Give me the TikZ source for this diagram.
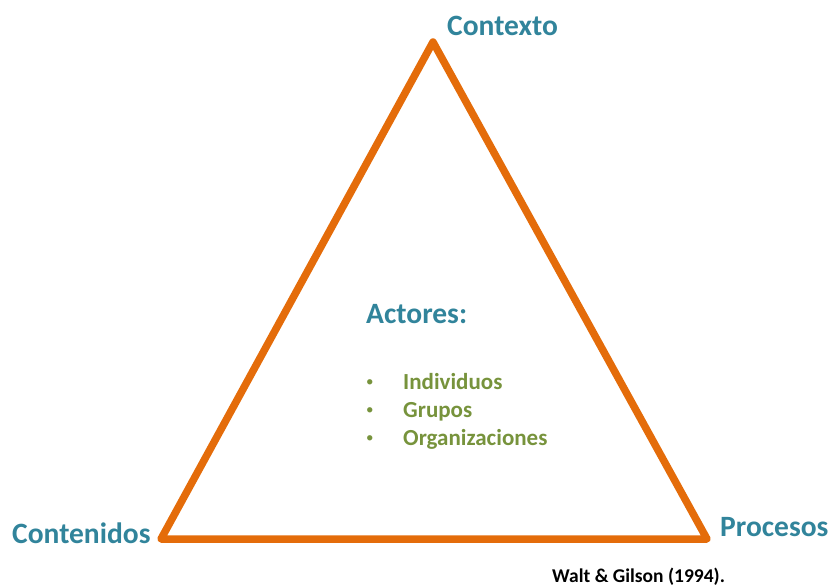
\documentclass[tikz,border=0pt]{standalone}
\usepackage{fontspec}
\setmainfont{Carlito}
\definecolor{teal}{HTML}{31849B}
\definecolor{leaf}{HTML}{77933C}
\definecolor{flame}{HTML}{E46C0A}
\begin{document}
\begin{tikzpicture}[x=1pt,y=-1pt,
  corner/.style={font=\fontsize{29.5}{32}\selectfont\bfseries,text=teal,anchor=base west,inner sep=0pt},
  item/.style={font=\fontsize{23}{26}\selectfont\bfseries,text=leaf,anchor=base west,inner sep=0pt},
  dot/.style={font=\fontsize{15}{18}\selectfont,text=leaf,anchor=base west,inner sep=0pt},
  edge/.style={draw=flame,line width=7.5pt,line join=round}]
\useasboundingbox (0,0) rectangle (832,584);
% triangle vertices
\coordinate (top) at (433,42);
\coordinate (left) at (161,539);
\coordinate (right) at (707,539);
\draw[edge] (top) -- (left) -- (right) -- cycle;
% corner labels
\node[corner] (contexto) at (447,35) {Contexto};
\node[corner] (contenidos) at (12,543) {Contenidos};
\node[corner] (procesos) at (720,536) {Procesos};
% centre list
\node[corner] (actores) at (366,323) {Actores:};
\node[dot] (b1) at (366,386) {•};
\node[dot] (b2) at (366,414) {•};
\node[dot] (b3) at (366,442) {•};
\node[item] (i1) at (403,389) {Individuos};
\node[item] (i2) at (403,417) {Grupos};
\node[item] (i3) at (403,445) {Organizaciones};
% reference
\node[anchor=base west,inner sep=0pt,font=\fontsize{19.5}{22}\selectfont\bfseries] (ref) at (552,582) {Walt \& Gilson (1994).};
\end{tikzpicture}
\end{document}
